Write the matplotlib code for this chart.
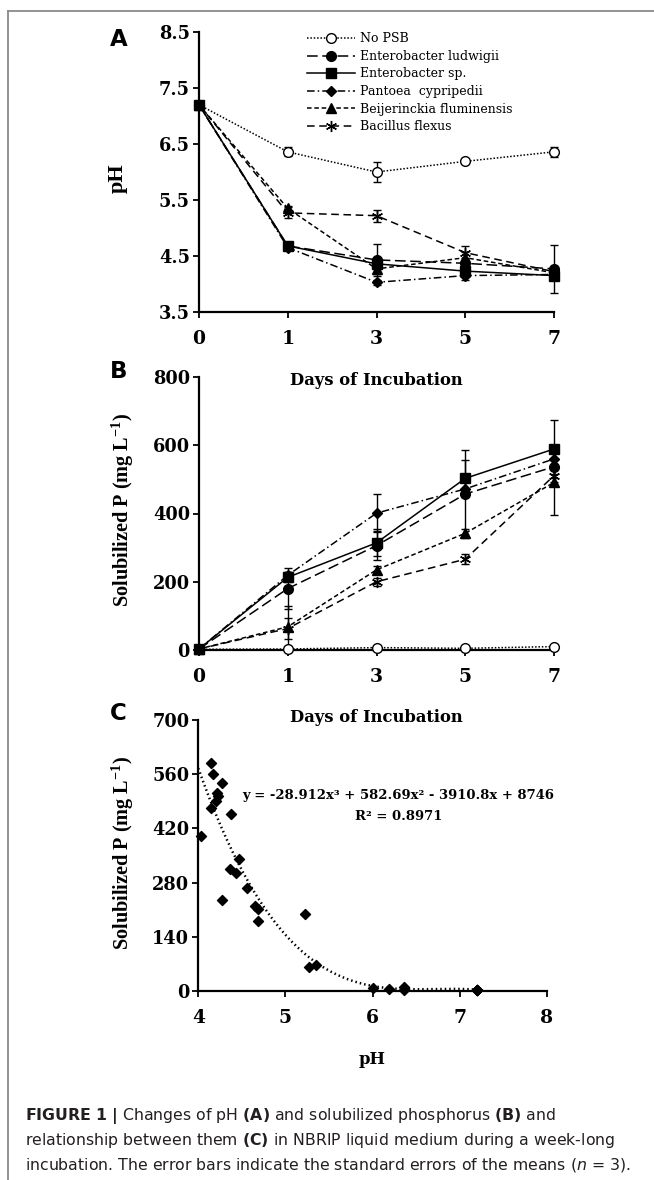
import numpy as np
import matplotlib
matplotlib.use("Agg")
import matplotlib.pyplot as plt
from matplotlib.lines import Line2D

# ---------------- data ----------------
days = ["0", "1", "3", "5", "7"]
series_names = ["No PSB", "Enterobacter ludwigii", "Enterobacter sp.",
                "Pantoea  cypripedii", "Beijerinckia fluminensis", "Bacillus flexus"]

ph_no_psb    = [7.20, 6.36, 6.00, 6.19, 6.36]
ph_ludwigii  = [7.20, 4.68, 4.43, 4.37, 4.27]
ph_sp        = [7.20, 4.68, 4.36, 4.23, 4.15]
ph_pantoea   = [7.20, 4.65, 4.03, 4.15, 4.17]
ph_beij      = [7.20, 5.35, 4.27, 4.47, 4.20]
ph_bacillus  = [7.20, 5.27, 5.22, 4.56, 4.22]

ph_err_no_psb   = [0.0, 0.08, 0.18, 0.03, 0.09]
ph_err_ludwigii = [0.0, 0.04, 0.28, 0.10, 0.43]
ph_err_sp       = [0.0, 0.04, 0.10, 0.08, 0.05]
ph_err_pantoea  = [0.0, 0.03, 0.05, 0.08, 0.04]
ph_err_beij     = [0.0, 0.05, 0.10, 0.10, 0.05]
ph_err_bacillus = [0.0, 0.10, 0.11, 0.12, 0.05]

p_no_psb    = [2, 3, 7, 5, 10]
p_ludwigii  = [3, 180, 306, 457, 537]
p_sp        = [3, 213, 314, 503, 589]
p_pantoea   = [3, 219, 401, 472, 560]
p_beij      = [3, 68, 235, 342, 491]
p_bacillus  = [3, 63, 200, 266, 511]

p_err_no_psb   = [0, 0, 0, 0, 0]
p_err_ludwigii = [0, 60, 43, 130, 20]
p_err_sp       = [0, 15, 40, 55, 85]
p_err_pantoea  = [0, 10, 56, 20, 20]
p_err_beij     = [0, 60, 12, 12, 95]
p_err_bacillus = [0, 30, 12, 15, 20]

trend_coefs = [-28.912, 582.69, -3910.8, 8746]   # displayed cubic trendline
trend_text = "y = -28.912x³ + 582.69x² - 3910.8x + 8746"
r2_text = "R² = 0.8971"

ph_ticks = [3.5, 4.5, 5.5, 6.5, 7.5, 8.5]
p_ticks = [0, 200, 400, 600, 800]
c_yticks = [0, 140, 280, 420, 560, 700]
c_xticks = [4, 5, 6, 7, 8]

# ---------------- style ----------------
plt.rcParams["mathtext.fontset"] = "custom"
plt.rcParams["mathtext.bf"] = "DejaVu Sans:bold"
plt.rcParams["mathtext.it"] = "DejaVu Sans:italic"
plt.rcParams["mathtext.rm"] = "DejaVu Sans"
plt.rcParams["mathtext.default"] = "regular"

SERIF = "DejaVu Serif"
TIMES = "Liberation Serif"
SANS = "DejaVu Sans"

styles = [
    dict(ls=(0, (1, 1.2)), marker="o", mfc="white", ms=7),
    dict(ls=(0, (7, 3)), marker="o", mfc="black", ms=7),
    dict(ls="-", marker="s", mfc="black", ms=7),
    dict(ls=(0, (5, 2, 1, 2)), marker="D", mfc="black", ms=5.5),
    dict(ls=(0, (3, 1.8)), marker="^", mfc="black", ms=7),
    dict(ls=(0, (5, 3)), marker=(6, 2, 0), mfc="black", ms=8),
]

ph_series = [ph_no_psb, ph_ludwigii, ph_sp, ph_pantoea, ph_beij, ph_bacillus]
ph_errs = [ph_err_no_psb, ph_err_ludwigii, ph_err_sp, ph_err_pantoea, ph_err_beij, ph_err_bacillus]
p_series = [p_no_psb, p_ludwigii, p_sp, p_pantoea, p_beij, p_bacillus]
p_errs = [p_err_no_psb, p_err_ludwigii, p_err_sp, p_err_pantoea, p_err_beij, p_err_bacillus]

W, H = 654, 1180
fig = plt.figure(figsize=(W / 100, H / 100), dpi=100)
fig.patch.set_facecolor("white")
renderer = fig.canvas.get_renderer()


def fbox(left, top, right, bottom):
    return [left / W, 1 - bottom / H, (right - left) / W, (bottom - top) / H]


def fit(t, target, axis="w"):
    bb = t.get_window_extent(renderer)
    cur = bb.width if axis == "w" else bb.height
    t.set_fontsize(t.get_fontsize() * target / cur)


axA = fig.add_axes(fbox(199, 32, 554, 312))
axB = fig.add_axes(fbox(199, 377, 554, 650))
axC = fig.add_axes(fbox(198.3, 720, 546.7, 991))
for ax in (axA, axB, axC):
    ax.patch.set_visible(False)


def style_axes(ax):
    for s in ["top", "right"]:
        ax.spines[s].set_visible(False)
    for s in ["left", "bottom"]:
        ax.spines[s].set_linewidth(1.6)
    ax.tick_params(axis="both", direction="out", length=4, width=1.3, color="black")
    ax.tick_params(axis="x", pad=9)
    ax.tick_params(axis="y", pad=2.5)
    for lab in ax.get_xticklabels():
        lab.set_fontfamily(SERIF)
        lab.set_fontweight("bold")
        lab.set_fontsize(13.5)
    for lab in ax.get_yticklabels():
        lab.set_fontfamily(SERIF)
        lab.set_fontweight("bold")
        lab.set_fontsize(12.8)


def ylab(ax, text, length, xc, yc):
    ax.set_ylabel(text, fontfamily=TIMES, fontweight="bold", fontsize=14)
    ax.yaxis.label.set_va("center")
    ax.yaxis.set_label_coords(xc, yc)
    fit(ax.yaxis.label, length, "h")


def xlab(ax, text, top_frac, width=None, size=None):
    ax.set_xlabel(text, fontfamily=SERIF, fontweight="bold", fontsize=11)
    ax.xaxis.label.set_va("top")
    ax.xaxis.set_label_coords(0.5, -top_frac)
    if width is not None:
        fit(ax.xaxis.label, width)
    if size is not None:
        ax.xaxis.label.set_fontsize(size)


xpos = np.arange(len(days))

# ---- Panel A ----
handles = []
for name, st, y, e in zip(series_names, styles, ph_series, ph_errs):
    cont = axA.errorbar(xpos, y, yerr=e, color="black", lw=1.1, ls=st["ls"],
                        marker=st["marker"], ms=st["ms"], mfc=st["mfc"], mec="black",
                        mew=1.0, elinewidth=1.0, capsize=3, capthick=1.0, label=name,
                        clip_on=False)
    handles.append(cont[0])
axA.set_xlim(0, 4)
axA.set_ylim(3.5, 8.5)
axA.set_xticks(xpos)
axA.set_xticklabels(days)
axA.set_yticks(ph_ticks)
axA.set_yticklabels([f"{v:.1f}" for v in ph_ticks])
style_axes(axA)
ylab(axA, "pH", 30, (118 - 199) / 355, (312 - 178) / 280)
xlab(axA, "Days of Incubation", (371.7 - 312) / 280, width=172)
days_size = axA.xaxis.label.get_fontsize()

# legend font size fitted to the reference label width
tmp = fig.text(0, 0, "Enterobacter ludwigii", fontfamily=SERIF, fontsize=9)
fit(tmp, 139)
leg_size = tmp.get_fontsize()
tmp.remove()
leg = axA.legend(handles=handles, labels=series_names, loc="upper left",
                 bbox_to_anchor=(306.7 / W, 1 - 32.5 / H), bbox_transform=fig.transFigure,
                 frameon=False, borderaxespad=0, borderpad=0, handlelength=3.85,
                 handletextpad=0.42, labelspacing=0.36,
                 prop={"family": SERIF, "size": leg_size})

# ---- Panel B ----
for name, st, y, e in zip(series_names, styles, p_series, p_errs):
    axB.errorbar(xpos, y, yerr=e, color="black", lw=1.1, ls=st["ls"],
                 marker=st["marker"], ms=st["ms"], mfc=st["mfc"], mec="black",
                 mew=1.0, elinewidth=1.0, capsize=3, capthick=1.0, clip_on=False,
                 zorder=3)
axB.set_xlim(0, 4)
axB.set_ylim(0, 800)
axB.set_xticks(xpos)
axB.set_xticklabels(days)
axB.set_yticks(p_ticks)
style_axes(axB)
ylab(axB, "Solubilized P (mg L$^{-1}$)", 195, (123 - 199) / 355, (650 - 509.5) / 273)
xlab(axB, "Days of Incubation", (709.3 - 650) / 273, size=days_size)

# ---- Panel C ----
all_ph = np.concatenate([np.asarray(s, float) for s in ph_series])
all_p = np.concatenate([np.asarray(s, float) for s in p_series])
axC.scatter(all_ph, all_p, marker="D", s=26, color="black", zorder=3, clip_on=False)
xx = np.linspace(4.0, 7.2, 200)
axC.plot(xx, np.polyval(trend_coefs, xx), color="black", lw=1.8, ls=(0, (0.6, 1.2)),
         zorder=2)
axC.set_xlim(4, 8)
axC.set_ylim(0, 700)
axC.set_xticks(c_xticks)
axC.set_yticks(c_yticks)
style_axes(axC)
ylab(axC, "Solubilized P (mg L$^{-1}$)", 195, (123 - 198.3) / 348.4, (991 - 852.5) / 271)
xlab(axC, "pH", (1051 - 991) / 271, size=days_size)
t1 = axC.text((398.5 - 198.3) / 348.4, (991 - 795) / 271, trend_text,
              transform=axC.transAxes, ha="center", va="center",
              fontfamily=SERIF, fontweight="bold", fontsize=10)
fit(t1, 310)
t2 = axC.text((398.5 - 198.3) / 348.4, (991 - 816) / 271, r2_text,
              transform=axC.transAxes, ha="center", va="center",
              fontfamily=SERIF, fontweight="bold", fontsize=t1.get_fontsize())

# ---- panel letters ----
for letter, y in [("A", 40), ("B", 371.5), ("C", 714)]:
    fig.text(118.5 / W, 1 - y / H, letter, ha="center", va="center",
             fontfamily=SANS, fontweight="bold", fontsize=16.5)

# ---- frame lines ----
fig.add_artist(Line2D([8.3 / W, 1.0], [1 - 10.5 / H, 1 - 10.5 / H], transform=fig.transFigure,
                      color="#8a8a8a", lw=1.3))
fig.add_artist(Line2D([8.3 / W, 8.3 / W], [0.0, 1 - 10.5 / H], transform=fig.transFigure,
                      color="#8a8a8a", lw=1.3))

# ---- caption ----
caption_lines = [
    r"$\mathbf{FIGURE\ 1\ |}$ Changes of pH $\mathbf{(A)}$ and solubilized phosphorus $\mathbf{(B)}$ and",
    r"relationship between them $\mathbf{(C)}$ in NBRIP liquid medium during a week-long",
    r"incubation. The error bars indicate the standard errors of the means ($\mathit{n}$ = 3).",
]
caption_widths = [546, 621, 605]
cap_texts = []
sizes = []
for i, (line, wdt) in enumerate(zip(caption_lines, caption_widths)):
    t = fig.text(25 / W, 1 - (1120 + 24.5 * i) / H, line, ha="left",
                 va="baseline", fontfamily=SANS, fontsize=12, color="#231f20")
    fit(t, wdt)
    sizes.append(t.get_fontsize())
    cap_texts.append(t)
cap_size = min(sizes)
for t in cap_texts:
    t.set_fontsize(cap_size)

fig.savefig("out.png", dpi=100, facecolor="white")
